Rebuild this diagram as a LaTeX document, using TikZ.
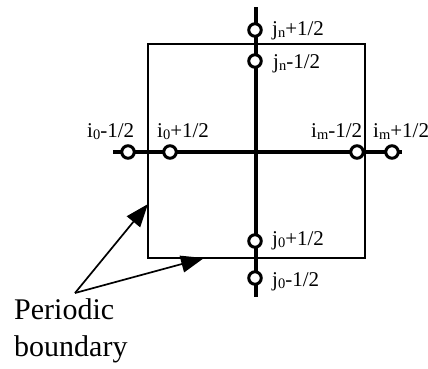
\documentclass[tikz,border=0pt]{standalone}
\usepackage{fontspec}
\setmainfont{Liberation Serif}
\usetikzlibrary{arrows.meta}
\newcommand\lsub[1]{\raisebox{-0.25ex}{\fontsize{14.5}{14.5}\selectfont #1}}
\begin{document}
\begin{tikzpicture}[x=1pt,y=-1pt,
  thickline/.style={line width=3.6pt},
  boxline/.style={line width=2.6pt},
  pt/.style={circle,draw,fill=white,line width=3pt,minimum size=12.5pt,inner sep=0pt},
  lbl/.style={anchor=base west,inner sep=0pt,font=\fontsize{21}{21}\selectfont},
  big/.style={anchor=base west,inner sep=0pt,font=\fontsize{30}{30}\selectfont},
  pointer/.style={line width=1.7pt,-{Triangle[length=23pt,width=17pt]}}]
\useasboundingbox (0,0) rectangle (428,368);
% box
\draw[boxline] (148,44) rectangle (365,258);
% axes
\coordinate (vt) at (256,7);
\coordinate (vb) at (256,297);
\coordinate (hl) at (113,152);
\coordinate (hr) at (402,152);
\draw[thickline] (vt) -- (vb);
\draw[thickline] (hl) -- (hr);
% points
\node[pt] (jnp) at (255,30) {};
\node[pt] (jnm) at (255,61) {};
\node[pt] (j0p) at (255,241) {};
\node[pt] (j0m) at (255,278) {};
\node[pt] (i0m) at (128,152) {};
\node[pt] (i0p) at (170,152) {};
\node[pt] (imm) at (357,152) {};
\node[pt] (imp) at (392,152) {};
% labels
\node[lbl] (ljnp) at (272,35) {j\lsub{n}+1/2};
\node[lbl] (ljnm) at (273,68) {j\lsub{n}-1/2};
\node[lbl] (lj0p) at (272,245) {j\lsub{0}+1/2};
\node[lbl] (lj0m) at (272,286) {j\lsub{0}-1/2};
\node[lbl] (li0m) at (87,137) {i\lsub{0}-1/2};
\node[lbl] (li0p) at (157,137) {i\lsub{0}+1/2};
\node[lbl] (limm) at (311,137) {i\lsub{m}-1/2};
\node[lbl] (limp) at (373,137) {i\lsub{m}+1/2};
% periodic boundary
\node[big] (per) at (14,319) {Periodic};
\node[big] (bnd) at (14,356) {boundary};
\coordinate (src) at (75,293);
\coordinate (tl) at (148,204);
\coordinate (tb) at (204,258);
\draw[pointer] (src) -- (tl);
\draw[pointer] (src) -- (tb);
\end{tikzpicture}
\end{document}
